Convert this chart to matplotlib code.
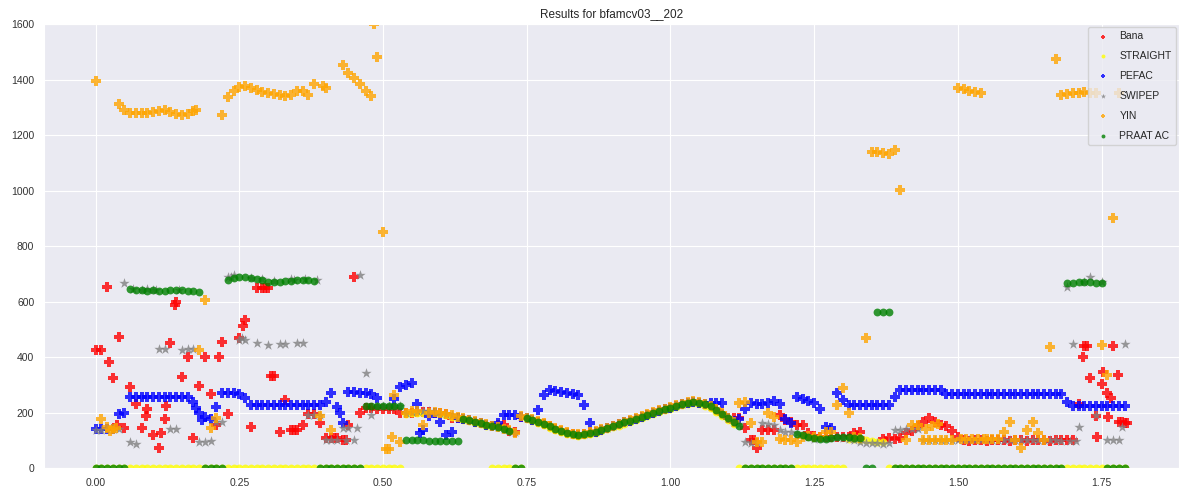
import numpy as np
import matplotlib
matplotlib.use("Agg")
import matplotlib.pyplot as plt
import seaborn as sns

sns.set_style("darkgrid")
plt.rcParams["font.family"] = ["Liberation Sans", "DejaVu Sans"]

nan = float("nan")

# frame times, 10 ms step
t = np.round(np.arange(180) * 0.01, 2)

# f0 estimates (Hz), one row = 0.1 s
bana = [425, 425, 653, 324, 472, 144, 292, 231, 144, 212,
        119, 72, 176, 451, 600, 328, 400, 108, 295, 400,
        267, 155, 454, 194, nan, 468, 533, 148, 650, 650,
        650, 332, 130, 245, 137, 137, 155, 194, 194, 162,
        108, 108, 108, 101, 155, 688, 198, 215, 215, 213,
        212, 212, 212, 200, 198, 200, 202, 203, 202, 200,
        197, 193, 180, 182, 177, 172, 166, 161, 156, 151,
        155, 155, 134, 130, 184, 180, 174, 167, 159, 150,
        142, 134, 127, 122, 120, 122, 126, 131, 137, 143,
        150, 157, 164, 171, 178, 185, 192, 199, 206, 212,
        218, 224, 230, 235, 238, 236, 230, 222, 210, 196,
        180, 180, 180, 144, 101, 72, 137, 137, 137, 191,
        173, 166, 155, 155, 126, 115, 112, 112, 112, 112,
        112, 112, 126, 130, nan, nan, nan, 105, 108, 105,
        108, 125, 135, 150, 165, 180, 165, 155, 150, 135,
        112, 100, 98, 100, 101, 99, 100, 101, 100, 99,
        100, 101, 99, 100, 101, 100, 99, 100, 101, 100,
        101, 231, 440, 324, 187, 303, 270, 440, 166, 162]
bana_xt = [0.023, 0.038, 0.088, 0.114, 0.123, 0.139, 0.215, 0.256, 0.295, 0.305,
           0.345, 0.415, 0.435, 1.145, 1.717, 1.725, 1.742, 1.752, 1.762, 1.766,
           1.778, 1.785, 1.795]
bana_xf = [382, 155, 187, 126, 223, 587, 400, 512, 650, 332,
           137, 108, 101, 101, 400, 440, 112, 346, 184, 252,
           335, 166, 162]

straight = [0] * 50 + [
        0, 0, 0, 0, 195, 197, 199, 200, 199, 197,
        194, 190, 185, 179, 174, 168, 162, 157, 152, 0,
        0, 0, 0, 0, 0, 176, 170, 162, 154, 145,
        137, 129, 123, 118, 116, 118, 122, 127, 133, 139,
        146, 153, 160, 167, 174, 181, 188, 195, 202, 208,
        214, 220, 226, 231, 234, 232, 225, 215, 203, 188,
        172, 158, 0, 0, 0, 0, 0, 0, 0, 0,
        0, 0, 0, 0, 0, 0, 0, 0, 0, 0,
        0, 105, 103, 100, 100, 98, 95, 93, 0, 0] + [0] * 40

pefac = [140, 140, 140, 140, 195, 200, 256, 256, 256, 256,
         256, 256, 256, 256, 256, 256, 256, 238, 200, 184,
         175, 220, 270, 270, 270, 265, 252, 227, 227, 227,
         227, 227, 227, 227, 227, 227, 227, 227, 227, 227,
         238, 270, 220, 162, 274, 274, 272, 270, 268, 252,
         nan, nan, 248, 292, 300, 305, 230, 137, 187, 200,
         166, 119, 130, 180, 177, 172, 166, 161, 156, 151,
         162, 191, 191, 191, 184, 180, 174, 209, 263, 281,
         278, 275, 272, 268, 262, 227, 162, 131, 137, 143,
         150, 157, 164, 171, 178, 185, 192, 199, 206, 212,
         218, 224, 230, 235, 238, 236, 230, 234, 234, 234,
         180, 170, 177, 212, 234, 232, 232, 234, 240, 231,
         175, 162, 256, 250, 240, 234, 212, 148, 144, 270,
         245, 227, 227, 227, 227, 227, 227, 227, 227, 256,
         281, 281, 281, 281, 281, 281, 281, 281, 267, 267,
         267, 267, 267, 267, 267, 267, 267, 267, 267, 267,
         267, 267, 267, 267, 267, 267, 267, 267, 267, 238,
         223, 223, 223, 223, 223, 223, 223, 223, 223, 223]
pefac_xt = [0.175, 0.185, 0.425, 0.565]
pefac_xf = [216, 173, 198, 126]

swipep = [138, 138, 140, 140, 140, 666, 94, 86, 640, 645,
          640, 430, 428, 140, 140, 425, 428, 430, 94, 94,
          98, 166, 166, 690, 695, 461, 461, 685, 450, 680,
          443, 675, 446, 446, 680, 451, 451, 191, 191, 191,
          101, 101, 101, 144, 144, 101, 695, 343, 191, 223,
          223, 223, 223, 223, 200, 203, 205, 206, 205, 203,
          200, 196, 191, 185, 179, 174, 168, 163, 158, 153,
          148, 142, 136, 130, 186, 182, 176, 169, 161, 152,
          144, 136, 129, 124, 122, 124, 128, 133, 139, 145,
          152, 159, 166, 173, 180, 187, 194, 201, 208, 214,
          220, 226, 232, 237, 240, 238, 232, 224, 212, 198,
          182, 165, 160, 94, 90, 94, 162, 160, 155, 137,
          130, 130, 125, 115, 110, 105, 108, 108, 110, 110,
          108, 105, 100, 95, 90, 90, 90, 88, 90, 137,
          137, 140, 140, 140, 101, 101, 102, 101, 100, 101,
          101, 102, 101, 100, 101, 101, 102, 101, 100, 101,
          101, 102, 101, 100, 101, 101, 102, 101, 98, 652,
          447, 148, 670, 690, 191, 670, 101, 101, 101, 447]
swipep_xt = [0.065, 0.105, 0.145, 0.235, 0.255, 0.345, 0.365, 0.385, 0.435, 0.455,
             0.725, 1.695, 1.705, 1.785]
swipep_xf = [645, 642, 640, 688, 470, 678, 680, 678, 101, 144,
             130, 98, 98, 148]

yin = [1395, 176, 148, 140, 1312, 1290, 1280, 1278, 1280, 1280,
       1282, 1286, 1290, 1283, 1275, 1272, 1276, 1285, 425, 605,
       144, 180, 1272, 1338, 1360, 1372, 1375, 1370, 1362, 1355,
       1350, 1348, 1345, 1340, 1345, 1358, 1360, 1345, 1385, 187,
       1370, 137, nan, 1452, 1425, 1405, 1385, 1360, 1340, 1480,
       850, 68, 263, 94, 200, 205, 205, 155, 200, 202,
       199, 195, 190, 184, 179, 174, 168, 163, 158, 153,
       148, 142, 136, 126, 186, 182, 176, 169, 161, 152,
       144, 136, 129, 124, 122, 124, 128, 133, 139, 145,
       152, 159, 166, 173, 180, 187, 194, 201, 208, 214,
       220, 226, 232, 237, 240, 238, 232, 224, 212, 198,
       182, 167, 235, 238, 162, 94, 94, 200, 184, 105,
       101, 101, 94, 110, 115, 112, 110, 130, 130, 227,
       288, 198, 112, 108, 468, 1139, 1137, 1135, 1130, 1146,
       1002, 101, 155, 155, 101, 101, 102, 101, 101, 101,
       1369, 1365, 1360, 1355, 1351, 105, 105, 105, 130, 166,
       101, 72, 137, 166, 126, 101, 436, 1474, 1345, 1348,
       1350, 1352, 1355, 1352, 1350, 443, 335, 901, 1350, nan]
yin_xt = [0.025, 0.035, 0.175, 0.395, 0.485, 0.505, 0.515, 1.445, 1.455, 1.465,
          1.505, 1.515, 1.525, 1.535, 1.545]
yin_xf = [135, 145, 1290, 1378, 1600, 68, 111, 140, 150, 160,
          103, 103, 105, 105, 104]

praat = [0, 0, 0, 0, 0, 0, 645, 642, 640, 638,
         640, 637, 638, 640, 642, 640, 638, 637, 636, 0,
         0, 0, 0, 678, 685, 688, 690, 686, 680, 676,
         672, 670, 672, 675, 674, 676, 677, 676, 675, 0,
         0, 0, 0, 0, 0, 0, 0, 224, 224, 223,
         222, 222, 222, 223, 102, 101, 100, 100, 99, 99,
         98, 97, 97, 96, 177, 172, 166, 161, 156, 151,
         146, 140, 134, 0, 0, 180, 174, 167, 159, 150,
         142, 134, 127, 122, 120, 122, 126, 131, 137, 143,
         150, 157, 164, 171, 178, 185, 192, 199, 206, 212,
         218, 224, 230, 235, 238, 236, 230, 222, 210, 196,
         180, 165, 150, 0, 0, 0, 0, 0, 0, 0,
         0, 0, 122, 118, 112, 108, 105, 105, 108, 110,
         110, 110, 108, 108, 0, 0, 563, 563, 562, 0] + [0] * 29 + [
         665, 668, 670, 670, 672, 668, 668, 0, 0, 0, 0]

series = [
    ("Bana", bana, bana_xt, bana_xf, "red", "P", 45),
    ("STRAIGHT", straight, [], [], "yellow", "o", 32),
    ("PEFAC", pefac, pefac_xt, pefac_xf, "blue", "P", 45),
    ("SWIPEP", swipep, swipep_xt, swipep_xf, "grey", "*", 60),
    ("YIN", yin, yin_xt, yin_xf, "orange", "P", 45),
    ("PRAAT AC", praat, [], [], "green", "o", 32),
]

fig = plt.figure(figsize=(11.79, 4.93), dpi=100)
ax = fig.add_axes([0.0373, 0.0507, 0.9627, 0.9006])

for name, vals, xt, xf, col, mk, sz in series:
    assert len(vals) == len(t), (name, len(vals))
    x = np.concatenate([t, np.array(xt, dtype=float)])
    y = np.concatenate([np.array(vals, dtype=float), np.array(xf, dtype=float)])
    ax.scatter(x, y, c=col, marker=mk, s=sz, alpha=0.8, linewidths=0, label=name)

ax.set_ylim(0, 1600)
ax.set_yticks(np.arange(0, 1601, 200))
ax.set_xticks([0.0, 0.25, 0.5, 0.75, 1.0, 1.25, 1.5, 1.75])
ax.set_xticklabels(["0.00", "0.25", "0.50", "0.75", "1.00", "1.25", "1.50", "1.75"])
ax.tick_params(labelsize=7.5, colors="0.2")
ax.set_title("Results for bfamcv03__202", fontsize=8.5, pad=5)
ax.legend(loc="upper right", fontsize=7.5, markerscale=0.5, labelspacing=0.95,
          borderaxespad=0.3, handletextpad=0.6, frameon=True)

fig.savefig("out.png", dpi=100)
